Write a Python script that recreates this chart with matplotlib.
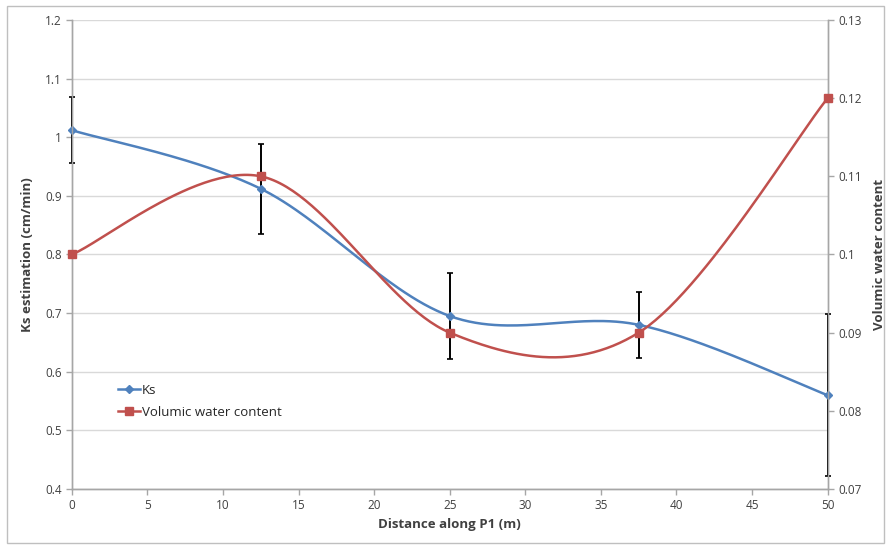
import numpy as np
import matplotlib
matplotlib.use('Agg')
import matplotlib.pyplot as plt
from matplotlib.ticker import FuncFormatter
from matplotlib.patches import Rectangle

# Data
distance = [0, 12.5, 25, 37.5, 50]
ks = [1.012, 0.912, 0.695, 0.680, 0.560]
ks_err = [0.056, 0.077, 0.073, 0.056, 0.138]
water = [0.10, 0.11, 0.09, 0.09, 0.12]

blue = '#4F81BD'
red = '#C0504D'
grid_col = '#D9D9D9'
axis_col = '#A6A6A6'
text_col = '#404040'

plt.rcParams['font.family'] = ['Open Sans', 'DejaVu Sans']


# Excel style smoothed line (cubic Bezier through the points)
def smooth(xs, ys, n=60):
    p = np.column_stack([xs, ys]).astype(float)
    out = []
    for i in range(len(p) - 1):
        p0 = p[i]
        p3 = p[i + 1]
        prev = p[i - 1] if i > 0 else p[i]
        nxt = p[i + 2] if i + 2 < len(p) else p[i + 1]
        c1 = p0 + (p3 - prev) / 6.0
        c2 = p3 - (nxt - p0) / 6.0
        t = np.linspace(0, 1, n)[:, None]
        seg = ((1 - t) ** 3) * p0 + 3 * ((1 - t) ** 2) * t * c1 + 3 * (1 - t) * t ** 2 * c2 + t ** 3 * p3
        out.append(seg if i == 0 else seg[1:])
    seg = np.vstack(out)
    return seg[:, 0], seg[:, 1]


fig = plt.figure(figsize=(8.88, 5.45), dpi=100)
ax = fig.add_axes([0.081, 0.1028, 0.851, 0.8605])
ax2 = ax.twinx()

# chart border
fig.patches.append(Rectangle((0.008, 0.004), 0.988, 0.985, transform=fig.transFigure,
                             fill=False, edgecolor='#BFBFBF', linewidth=1.0))

# Ks series
sx, sy = smooth(distance, ks)
ax.plot(sx, sy, color=blue, linewidth=1.8, zorder=3)
eb = ax.errorbar(distance, ks, yerr=ks_err, fmt='none', ecolor='black', elinewidth=1.4,
                 capsize=2.5, capthick=1.2, zorder=4)
for art in eb.lines[1] + eb.lines[2]:
    art.set_clip_on(False)
ax.plot(distance, ks, linestyle='none', marker='D', markersize=4.5, color=blue,
        zorder=5, clip_on=False)

# water content series
wx, wy = smooth(distance, water)
ax2.plot(wx, wy, color=red, linewidth=1.8, zorder=3)
ax2.plot(distance, water, linestyle='none', marker='s', markersize=5.5, color=red,
         zorder=4, clip_on=False)

ax.set_xlim(0, 50)
ax.set_ylim(0.4, 1.2)
ax2.set_ylim(0.07, 0.13)
ax.set_xticks(np.arange(0, 51, 5))
ax.set_yticks(np.arange(0.4, 1.21, 0.1))
ax2.set_yticks(np.arange(0.07, 0.1301, 0.01))
fmt = FuncFormatter(lambda v, pos: '%g' % round(v, 3))
ax.yaxis.set_major_formatter(fmt)
ax2.yaxis.set_major_formatter(fmt)

ax.grid(axis='y', color=grid_col, linewidth=1.0)
ax.set_axisbelow(True)

for a in (ax, ax2):
    a.spines['top'].set_visible(False)
    for s in ('left', 'right', 'bottom'):
        a.spines[s].set_color(axis_col)
        a.spines[s].set_linewidth(1.0)
    a.tick_params(colors=axis_col, labelcolor=text_col, labelsize=8.5, length=4, width=1.0)

ax.set_xlabel('Distance along P1 (m)', fontsize=9.5, fontweight='bold', color=text_col, labelpad=4)
ax.set_ylabel('Ks estimation (cm/min)', fontsize=9.5, fontweight='bold', color=text_col, labelpad=8)
ax2.set_ylabel('Volumic water content', fontsize=9.5, fontweight='bold', color=text_col, labelpad=8)

# legend
h1 = plt.Line2D([], [], color=blue, linewidth=1.8, marker='D', markersize=4)
h2 = plt.Line2D([], [], color=red, linewidth=1.8, marker='s', markersize=5.5)
leg = ax2.legend([h1, h2], ['Ks', 'Volumic water content'], loc='upper left',
                 bbox_to_anchor=(0.045, 0.25), frameon=False, fontsize=9.5,
                 handlelength=1.7, handletextpad=0.1, labelspacing=0.7)
for t in leg.get_texts():
    t.set_color('#262626')

fig.savefig('out.png', dpi=100)
